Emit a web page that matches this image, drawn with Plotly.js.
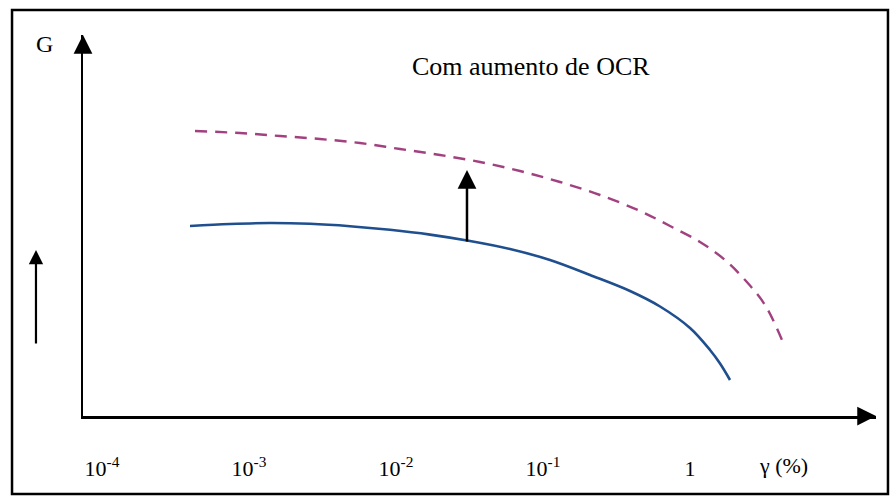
<!DOCTYPE html>
<html>
<head>
<meta charset="utf-8">
<script src="https://cdn.plot.ly/plotly-3.0.1.min.js"></script>
<style>
html,body{margin:0;padding:0;background:#fff;}
#chart{width:890px;height:496px;}
</style>
</head>
<body>
<div id="chart"></div>
<script>
// Strain gamma (%) and stiffness G — schematic values
const gammaBase = [3.969e-4, 7.43e-4, 1.389e-3, 2.600e-3, 4.865e-3, 9.10e-3, 0.01703, 0.03187,
                   0.05964, 0.1116, 0.2088, 0.3907, 0.6251, 1.0, 1.368, 1.600, 1.871];
const gBase     = [1.90, 1.92, 1.93, 1.922, 1.898, 1.862, 1.814, 1.75,
                   1.67, 1.56, 1.41, 1.25, 1.095, 0.88, 0.66, 0.525, 0.36];
const gammaOCR  = [4.291e-4, 8.69e-4, 1.625e-3, 3.041e-3, 5.69e-3, 0.01065, 0.01992, 0.03728, 0.06976,
                   0.1305, 0.2443, 0.4570, 0.7311, 1.1696, 1.730, 2.367, 3.237, 4.225];
const gOCR      = [2.85, 2.83, 2.80, 2.77, 2.73, 2.67, 2.61, 2.54, 2.45,
                   2.34, 2.21, 2.05, 1.90, 1.74, 1.56, 1.36, 1.11, 0.76];
const tickVals  = [1e-4, 1e-3, 1e-2, 1e-1, 1];
const tickText  = ['10<sup>-4</sup>', '10<sup>-3</sup>', '10<sup>-2</sup>', '10<sup>-1</sup>', '1'];
const arrowGamma = 0.0304;
const arrowTipG = 2.46;

const serif = 'Liberation Serif';

const traces = [
  {x: gammaBase, y: gBase, mode: 'lines', type: 'scatter',
   line: {color: '#1f4f8e', width: 2.6, shape: 'spline', smoothing: 1}, hoverinfo: 'skip'},
  {x: gammaOCR, y: gOCR, mode: 'lines', type: 'scatter',
   line: {color: '#a2417f', width: 2.4, dash: '12px,8px', shape: 'spline', smoothing: 1}, hoverinfo: 'skip'}
];

const layout = {
  width: 890, height: 496,
  margin: {l: 83, r: 14, t: 35, b: 80},
  paper_bgcolor: '#fff', plot_bgcolor: '#fff',
  showlegend: false,
  font: {family: serif, color: '#000'},
  xaxis: {
    type: 'log', range: [-4.129, 1.265],
    tickvals: tickVals, ticktext: tickText,
    showgrid: false, zeroline: false,
    showline: true, linecolor: '#000', linewidth: 2.5,
    ticks: '', ticklabelstandoff: 31,
    tickfont: {family: serif, size: 22, color: '#000'}
  },
  yaxis: {
    range: [0, 3.81],
    showgrid: false, zeroline: false, showticklabels: false,
    showline: true, linecolor: '#000', linewidth: 2.5, ticks: ''
  },
  shapes: [
    {type: 'rect', xref: 'paper', yref: 'paper',
     x0: -0.0895, x1: 1.0151, y0: -0.2047, y1: 1.0656,
     line: {color: '#000', width: 2.5}}
  ],
  annotations: [
    {xref: 'paper', yref: 'paper', x: 1, y: 0, ax: -18, ay: 0, text: '',
     showarrow: true, arrowhead: 2, arrowsize: 1.5, arrowwidth: 2.5, arrowcolor: '#000'},
    {xref: 'paper', yref: 'paper', x: 0, y: 1, ax: 0, ay: 18, text: '',
     showarrow: true, arrowhead: 2, arrowsize: 1.5, arrowwidth: 2.5, arrowcolor: '#000'},
    {xref: 'x', yref: 'y', x: Math.log10(arrowGamma), y: arrowTipG, ax: 0, ay: 73, text: '',
     showarrow: true, arrowhead: 2, arrowsize: 1.5, arrowwidth: 2.5, arrowcolor: '#000'},
    {xref: 'paper', yref: 'paper', x: -0.0593, y: 0.4357, ax: 0, ay: 95, text: '',
     showarrow: true, arrowhead: 2, arrowsize: 1.3, arrowwidth: 2.2, arrowcolor: '#000'},
    {xref: 'paper', yref: 'paper', x: -0.049, y: 0.977, yanchor: 'middle', xanchor: 'center',
     text: 'G', showarrow: false, font: {family: serif, size: 24, color: '#000'}},
    {xref: 'paper', yref: 'paper', x: 0.5649, y: 0.918, yanchor: 'middle', xanchor: 'center',
     text: 'Com aumento de OCR', showarrow: false, font: {family: serif, size: 26, color: '#000'}},
    {xref: 'x', yref: 'paper', x: 0.639, y: -0.131, yanchor: 'middle', xanchor: 'center',
     text: 'γ (%)', showarrow: false, font: {family: serif, size: 22, color: '#000'}}
  ]
};

Plotly.newPlot('chart', traces, layout, {staticPlot: true, displayModeBar: false});
</script>
</body>
</html>
